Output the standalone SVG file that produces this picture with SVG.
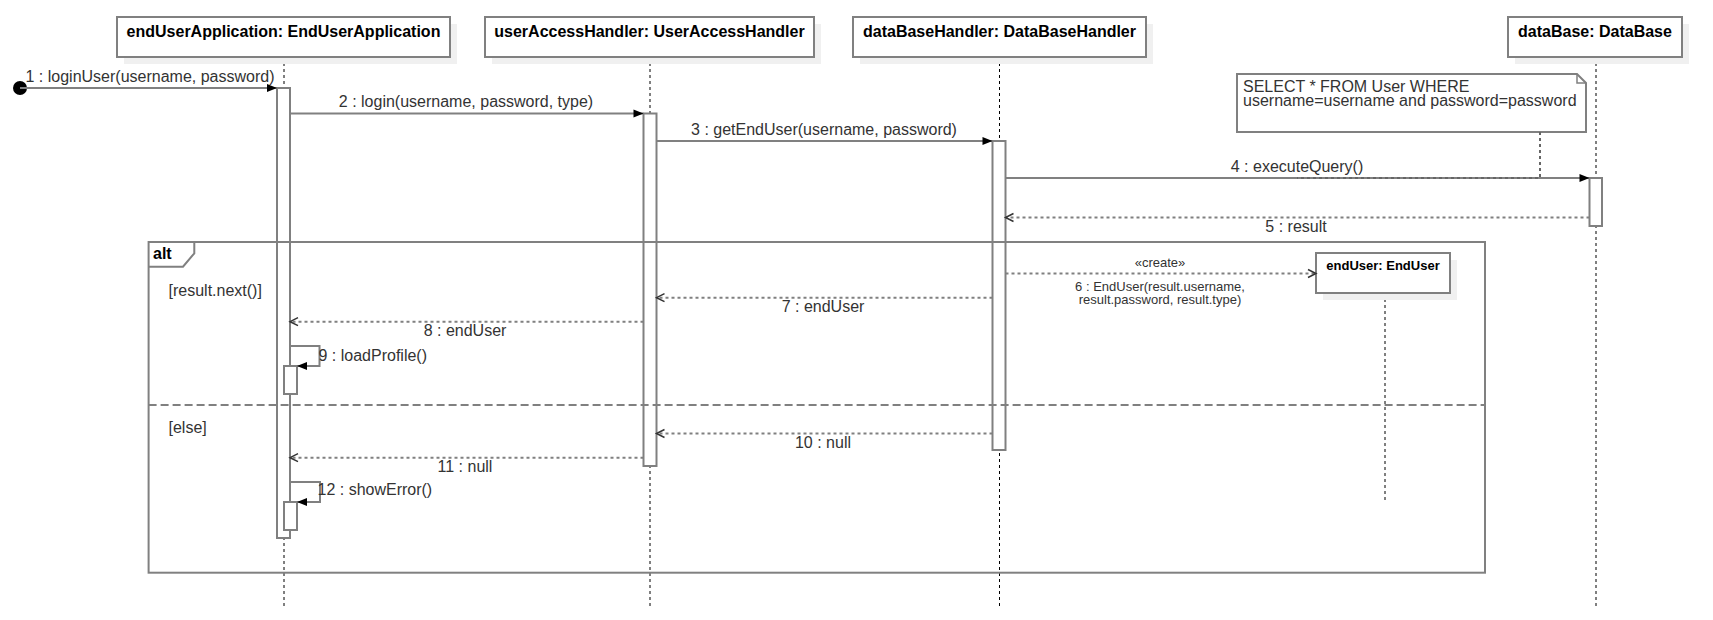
<svg xmlns="http://www.w3.org/2000/svg" width="1713" height="620" viewBox="0 0 1713 620">
<style>
.hdr{fill:#fff;stroke:#808080;stroke-width:2}
.shd{fill:#f0f0f0}
.ht{font-family:"Liberation Sans",Arial,sans-serif;font-weight:bold;font-size:16px;fill:#000;text-anchor:middle}
.life{stroke:#000;stroke-width:1;stroke-dasharray:3 3;fill:none}
.act{fill:#fff;stroke:#808080;stroke-width:2}
.msg{stroke:#808080;stroke-width:2;fill:none}
.ret{stroke:#808080;stroke-width:2;stroke-dasharray:3 3;fill:none}
.lbl{font-family:"Liberation Sans",Arial,sans-serif;font-size:16px;fill:#333;text-anchor:middle}
.sm{font-family:"Liberation Sans",Arial,sans-serif;font-size:13px;fill:#333;text-anchor:middle}
.frame{fill:none;stroke:#808080;stroke-width:2}
</style>
<defs>
<marker id="fill" markerUnits="userSpaceOnUse" markerWidth="11" markerHeight="9" refX="10" refY="4" orient="auto" overflow="visible">
<path d="M0,0 L10,4 L0,8 z" fill="#000"/>
</marker>
<marker id="open" markerUnits="userSpaceOnUse" markerWidth="10" markerHeight="10" refX="8" refY="4" orient="auto" overflow="visible">
<path d="M0,0 L8,4 L0,8" fill="none" stroke="#333" stroke-width="1.5"/>
</marker>
</defs>
<rect width="1713" height="620" fill="#fff"/>

<!-- lifelines -->
<g id="lifelines">
<line class="life" x1="284" y1="57" x2="284" y2="606"/>
<line class="life" x1="650" y1="57" x2="650" y2="606"/>
<line class="life" x1="999.5" y1="57" x2="999.5" y2="606"/>
<line class="life" x1="1596" y1="57" x2="1596" y2="606"/>
<line class="life" x1="1385" y1="293" x2="1385" y2="502"/>
</g>

<g id="endUserApplication">
<rect class="shd" x="124" y="24" width="333" height="40"/>
<rect class="hdr" x="117" y="17" width="333" height="40"/>
<text class="ht" x="283.5" y="36.5">endUserApplication: EndUserApplication</text>
<rect class="act" x="277" y="88" width="13" height="450"/>
<rect class="act" x="284" y="366" width="13" height="28"/>
<rect class="act" x="284" y="502" width="13" height="28"/>
</g>

<g id="userAccessHandler">
<rect class="shd" x="492" y="24" width="329" height="40"/>
<rect class="hdr" x="485" y="17" width="329" height="40"/>
<text class="ht" x="649.5" y="36.5">userAccessHandler: UserAccessHandler</text>
<rect class="act" x="643.5" y="113.5" width="13" height="352.5"/>
</g>

<g id="dataBaseHandler">
<rect class="shd" x="860" y="24" width="293" height="40"/>
<rect class="hdr" x="853" y="17" width="293" height="40"/>
<text class="ht" x="999.5" y="36.5">dataBaseHandler: DataBaseHandler</text>
<rect class="act" x="992.5" y="141" width="13" height="309"/>
</g>

<g id="dataBase">
<rect class="shd" x="1515" y="24" width="174" height="40"/>
<rect class="hdr" x="1508" y="17" width="174" height="40"/>
<text class="ht" x="1595" y="36.5">dataBase: DataBase</text>
<rect class="act" x="1589.5" y="178" width="12.5" height="48"/>
</g>

<g id="endUser">
<rect class="shd" x="1323" y="260" width="134" height="40"/>
<rect class="hdr" x="1316" y="253" width="134" height="40"/>
<text class="ht" x="1383" y="270" style="font-size:13px">endUser: EndUser</text>
</g>

<g id="note">
<path d="M1237,74 H1577 L1586,83 V132 H1237 Z" fill="#fff" stroke="#808080" stroke-width="2"/>
<path d="M1577,74 V83 H1586" fill="none" stroke="#808080" stroke-width="1.5"/>
<text x="1243" y="91.5" style="font-family:'Liberation Sans',Arial,sans-serif;font-size:16px;fill:#333">SELECT * FROM User WHERE</text>
<text x="1243" y="105.5" style="font-family:'Liberation Sans',Arial,sans-serif;font-size:16px;fill:#333">username=username and password=password</text>
</g>

<g id="altFrame">
<rect class="frame" x="148.6" y="242" width="1336.4" height="330.7"/>
<path class="frame" d="M148.6,242 H194.3 V253.3 L183,266.7 H148.6"/>
<text x="153" y="258.5" style="font-family:'Liberation Sans',Arial,sans-serif;font-weight:bold;font-size:16px;fill:#000">alt</text>
<line x1="148.6" y1="405" x2="1485" y2="405" stroke="#808080" stroke-width="2" stroke-dasharray="8 4"/>
<text x="168.5" y="296" style="font-family:'Liberation Sans',Arial,sans-serif;font-size:16px;fill:#333">[result.next()]</text>
<text x="168.5" y="433" style="font-family:'Liberation Sans',Arial,sans-serif;font-size:16px;fill:#333">[else]</text>
</g>

<g id="connectors">
<circle cx="20" cy="88" r="7" fill="#000"/>
<line class="msg" x1="20" y1="88" x2="277" y2="88" marker-end="url(#fill)"/>
<text class="lbl" x="150" y="81.5">1 : loginUser(username, password)</text>

<line class="msg" x1="290" y1="113.5" x2="643.5" y2="113.5" marker-end="url(#fill)"/>
<text class="lbl" x="466" y="107">2 : login(username, password, type)</text>

<line class="msg" x1="656.5" y1="141" x2="992.5" y2="141" marker-end="url(#fill)"/>
<text class="lbl" x="824" y="135">3 : getEndUser(username, password)</text>

<line class="msg" x1="1005.5" y1="178" x2="1589.5" y2="178" marker-end="url(#fill)"/>
<text class="lbl" x="1297" y="172">4 : executeQuery()</text>
<path d="M1540,132 V178 H1297" fill="none" stroke="#666" stroke-width="2" stroke-dasharray="3 3"/>

<line class="ret" x1="1589.5" y1="217.5" x2="1005.5" y2="217.5" marker-end="url(#open)"/>
<text class="lbl" x="1296" y="232">5 : result</text>

<line class="ret" x1="1005.5" y1="273.5" x2="1316" y2="273.5" marker-end="url(#open)"/>
<text class="sm" x="1160" y="267">«create»</text>
<text class="sm" x="1160" y="291">6 : EndUser(result.username,</text>
<text class="sm" x="1160" y="304">result.password, result.type)</text>

<line class="ret" x1="992.5" y1="297.7" x2="656.5" y2="297.7" marker-end="url(#open)"/>
<text class="lbl" x="823" y="312">7 : endUser</text>

<line class="ret" x1="643.5" y1="321.7" x2="290" y2="321.7" marker-end="url(#open)"/>
<text class="lbl" x="465" y="336">8 : endUser</text>

<path class="msg" d="M290,346 H319.5 V366 H297" marker-end="url(#fill)"/>
<text class="lbl" x="318.5" y="361" style="text-anchor:start">9 : loadProfile()</text>

<line class="ret" x1="992.5" y1="433.5" x2="656.5" y2="433.5" marker-end="url(#open)"/>
<text class="lbl" x="823" y="448">10 : null</text>

<line class="ret" x1="643.5" y1="457.7" x2="290" y2="457.7" marker-end="url(#open)"/>
<text class="lbl" x="465" y="472">11 : null</text>

<path class="msg" d="M290,482 H320 V502 H297" marker-end="url(#fill)"/>
<text class="lbl" x="317.5" y="495" style="text-anchor:start">12 : showError()</text>
</g>
</svg>
